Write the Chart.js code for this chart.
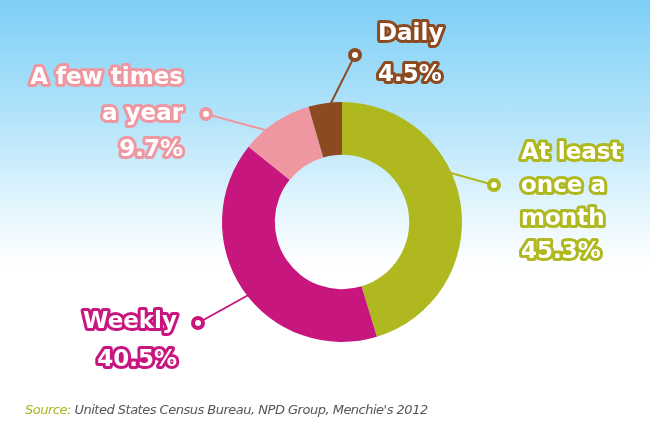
<!DOCTYPE html>
<html>
<head>
<meta charset="utf-8">
<script src="https://cdn.jsdelivr.net/npm/chart.js@4/dist/chart.umd.min.js"></script>
<style>
  html, body { margin: 0; padding: 0; }
  body {
    width: 650px; height: 437px; overflow: hidden; position: relative;
    background: linear-gradient(to bottom, #7dcff6 0px, #b4e4fa 120px, #e2f5fd 205px, #ffffff 265px, #ffffff 437px);
  }
  #wrap { position: absolute; left: 0; top: 0; width: 650px; height: 437px; }
  #source {
    position: absolute; left: 25px; top: 402px;
    font: italic 13px 'DejaVu Sans', sans-serif; letter-spacing: -0.5px; color: #55555a; white-space: nowrap;
  }
  #source span { color: #a9b41c; }
</style>
</head>
<body>
<div id="wrap"><canvas id="chart" width="650" height="437"></canvas></div>
<div id="source"><span>Source:</span> United States Census Bureau, NPD Group, Menchie's 2012</div>
<script>
window.addEventListener('DOMContentLoaded', () => {
    const categories = ["At least once a month", "Weekly", "A few times a year", "Daily"];
    const shares = [45.3, 40.5, 9.7, 4.5];
    const colors = ['#afb81f', '#c8167f', '#ee97a1', '#8b4a20'];

    // label text lines, where they sit and where the connector goes
    const labels = [
        { lines: ['At least', 'once a', 'month'], x: 521, y: 153, align: 'left', dot: [494, 185], end: [440, 170] },
        { lines: ['Weekly'], x: 177, y: 322, align: 'right', dot: [198, 323], end: [270, 283] },
        { lines: ['A few times', 'a year'], x: 183, y: 78, align: 'right', dot: [206, 114], end: [280, 134] },
        { lines: ['Daily'], x: 378, y: 34, align: 'left', dot: [355, 55], end: [325, 115] }
    ];
    const lineGap = [33, 38, 36, 41];

    function outlined(ctx, txt, x, y, col) {
        ctx.lineWidth = 6;
        ctx.lineJoin = 'round';
        ctx.strokeStyle = col;
        ctx.strokeText(txt, x, y);
        ctx.fillStyle = '#ffffff';
        ctx.fillText(txt, x, y);
    }

    const connectors = {
        id: 'connectors',
        beforeDatasetsDraw(chart) {
            const ctx = chart.ctx;
            ctx.save();
            labels.forEach((l, i) => {
                ctx.strokeStyle = colors[i];
                ctx.lineWidth = 2;
                ctx.beginPath();
                ctx.moveTo(l.dot[0], l.dot[1]);
                ctx.lineTo(l.end[0], l.end[1]);
                ctx.stroke();
            });
            ctx.restore();
        },
        afterDatasetsDraw(chart) {
            const ctx = chart.ctx;
            ctx.save();
            ctx.font = "bold 23px 'DejaVu Sans', sans-serif";
            ctx.textBaseline = 'middle';
            labels.forEach((l, i) => {
                ctx.beginPath();
                ctx.arc(l.dot[0], l.dot[1], 5, 0, Math.PI * 2);
                ctx.fillStyle = '#ffffff';
                ctx.fill();
                ctx.lineWidth = 4;
                ctx.strokeStyle = colors[i];
                ctx.stroke();

                ctx.textAlign = l.align;
                const rows = l.lines.concat([shares[i].toFixed(1) + '%']);
                rows.forEach((r, j) => outlined(ctx, r, l.x, l.y + j * lineGap[i], colors[i]));
            });
            ctx.restore();
        }
    };

    new Chart(document.getElementById('chart').getContext('2d'), {
        type: 'doughnut',
        data: {
            labels: categories,
            datasets: [{
                data: shares,
                backgroundColor: colors,
                borderWidth: 0
            }]
        },
        options: {
            responsive: false,
            animation: false,
            cutout: '56%',
            layout: { padding: { left: 222, right: 188, top: 102, bottom: 95 } },
            plugins: { legend: { display: false }, tooltip: { enabled: false } }
        },
        plugins: [connectors]
    });
});
</script>
</body>
</html>
